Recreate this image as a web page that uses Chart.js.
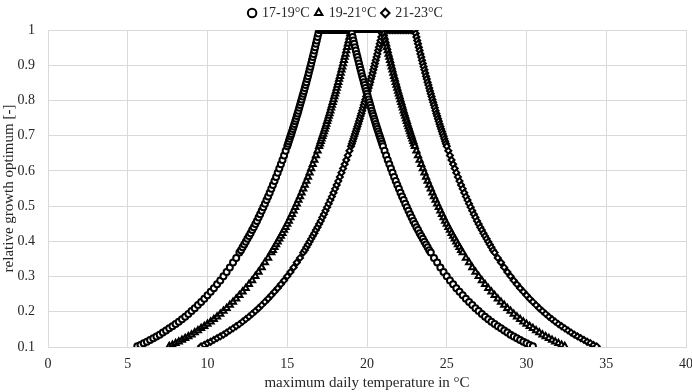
<!DOCTYPE html>
<html>
<head>
<meta charset="utf-8">
<script src="https://cdn.jsdelivr.net/npm/chart.js@4.4.0/dist/chart.umd.min.js"></script>
<style>
  body { margin: 0; background: #fff; }
</style>
</head>
<body>
<canvas id="growth-chart" width="692" height="392"></canvas>
<script>
// temperature bands (optimum plateau edges)
const seriesNames = ["17-19\u00B0C", "19-21\u00B0C", "21-23\u00B0C"];
const optLow = [17, 19, 21];
const optHigh = [19, 21, 23];
const markers = ["circle", "triangle", "rectRot"];

// distance from the optimum band [°C] and relative growth
const offsets = [0, 0.05, 0.1, 0.15, 0.2, 0.25, 0.3, 0.35, 0.4, 0.45, 0.5, 0.55, 0.6, 0.65, 0.7, 0.75, 0.8, 0.85, 0.9, 0.95,
  1.0, 1.05, 1.1, 1.15, 1.2, 1.25, 1.3, 1.35, 1.4, 1.45, 1.5, 1.55, 1.6, 1.65, 1.7, 1.75, 1.8, 1.85, 1.9, 1.95, 2.0,
  2.1, 2.2, 2.3, 2.4, 2.5, 2.6, 2.7, 2.8, 2.9, 3.0, 3.1, 3.2, 3.3, 3.4, 3.5, 3.6, 3.7, 3.8, 3.9, 4.0,
  4.1, 4.2, 4.3, 4.4, 4.5, 4.6, 4.7, 4.8, 4.9, 5.0,
  5.2, 5.4, 5.6, 5.8, 6.0, 6.2, 6.4, 6.6, 6.8, 7.0, 7.2, 7.4, 7.6, 7.8, 8.0, 8.2, 8.4, 8.6, 8.8, 9.0,
  9.2, 9.4, 9.6, 9.8, 10.0, 10.2, 10.4, 10.6, 10.8, 11.0, 11.2, 11.4];
const relGrowth = [1.000, 0.990, 0.980, 0.970, 0.961, 0.951, 0.942, 0.932, 0.923, 0.914, 0.905, 0.896, 0.887, 0.878, 0.869, 0.861, 0.852, 0.844, 0.835, 0.827,
  0.819, 0.811, 0.803, 0.795, 0.787, 0.779, 0.771, 0.763, 0.756, 0.748, 0.741, 0.733, 0.726, 0.719, 0.712, 0.705, 0.698, 0.691, 0.684, 0.677, 0.670,
  0.657, 0.644, 0.631, 0.619, 0.607, 0.595, 0.583, 0.571, 0.560, 0.549, 0.538, 0.527, 0.517, 0.507, 0.497, 0.487, 0.477, 0.468, 0.458, 0.449,
  0.440, 0.432, 0.423, 0.415, 0.407, 0.399, 0.391, 0.383, 0.375, 0.368,
  0.353, 0.340, 0.326, 0.313, 0.301, 0.289, 0.278, 0.267, 0.257, 0.247, 0.237, 0.228, 0.219, 0.210, 0.202, 0.194, 0.186, 0.179, 0.172, 0.165,
  0.159, 0.153, 0.147, 0.141, 0.135, 0.130, 0.125, 0.120, 0.115, 0.111, 0.106, 0.102];
// points along the flat top inside each band
const plateauSteps = [0.1, 0.2, 0.3, 0.4, 0.5, 0.6, 0.7, 0.8, 0.9, 1.0, 1.1, 1.2, 1.3, 1.4, 1.5, 1.6, 1.7, 1.8, 1.9];

function buildSeries(i) {
  const pts = [];
  for (let k = offsets.length - 1; k >= 0; k--) pts.push({ x: optLow[i] - offsets[k], y: relGrowth[k] });
  plateauSteps.forEach(p => pts.push({ x: optLow[i] + p, y: 1 }));
  for (let k = 0; k < offsets.length; k++) pts.push({ x: optHigh[i] + offsets[k], y: relGrowth[k] });
  return pts;
}

const serif = "'Liberation Serif', 'Times New Roman', serif";
const gridColor = "#d9d9d9";
const textColor = "#262626";

new Chart(document.getElementById("growth-chart"), {
  type: "scatter",
  data: {
    datasets: seriesNames.map((name, i) => ({
      label: name,
      data: buildSeries(i),
      pointStyle: markers[i],
      pointRadius: i === 1 ? 3.5 : 3,
      pointBorderWidth: 2,
      borderColor: "#000",
      backgroundColor: "#fff",
      pointBackgroundColor: "#fff",
      pointBorderColor: "#000"
    }))
  },
  options: {
    responsive: false,
    animation: false,
    layout: { padding: { top: 0, right: 0, left: 0, bottom: 0 } },
    plugins: {
      legend: {
        position: "top",
        labels: {
          usePointStyle: true,
          boxWidth: 6,
          boxHeight: 6,
          padding: 6,
          color: textColor,
          font: { family: serif, size: 14 }
        }
      },
      tooltip: { enabled: false }
    },
    scales: {
      x: {
        type: "linear",
        min: 0,
        max: 40,
        afterFit: s => { s.height = 45; s.paddingRight = 5; s.paddingLeft = 0; },
        ticks: { stepSize: 5, color: textColor, font: { family: serif, size: 14 }, padding: 9 },
        grid: { color: gridColor, drawTicks: false },
        border: { color: gridColor },
        title: { display: true, text: "maximum daily temperature in \u00B0C", color: textColor, font: { family: serif, size: 15 }, padding: { top: 0, bottom: 0 } }
      },
      y: {
        min: 0.1,
        max: 1,
        afterFit: s => { s.width = 48; },
        ticks: { stepSize: 0.1, color: textColor, font: { family: serif, size: 14 }, padding: 13,
          callback: v => Math.round(v * 10) / 10 },
        grid: { color: gridColor, drawTicks: false },
        border: { color: gridColor },
        title: { display: true, text: "relative growth optimum [-]", color: textColor, font: { family: serif, size: 15 }, padding: { top: 0, bottom: 0 } }
      }
    }
  }
});
</script>
</body>
</html>
